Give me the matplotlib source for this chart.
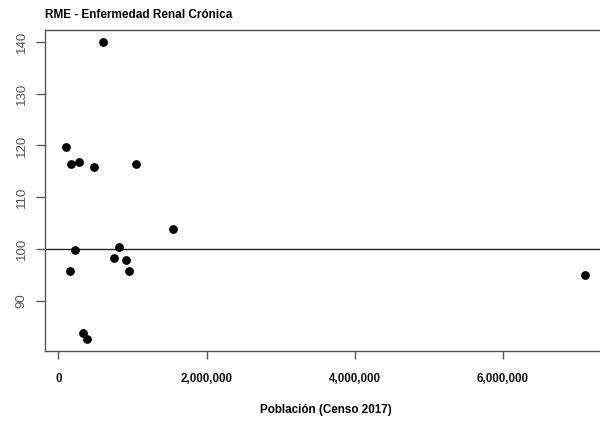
import matplotlib
matplotlib.use("Agg")
import matplotlib.pyplot as plt
import matplotlib.ticker as ticker

plt.rcParams["font.family"] = ["Liberation Sans", "DejaVu Sans"]

# Población (Censo 2017) y RME por región
poblacion = [100000, 175500, 283600, 482000, 1045000, 603600,
             1553000, 225500, 162000, 823700, 756000, 914000,
             954700, 329000, 383500, 7112000]
rme = [119.7, 116.4, 116.9, 115.8, 116.4, 140.0,
       103.9, 99.8, 95.7, 100.3, 98.3, 97.8,
       95.7, 83.7, 82.6, 95.0]

x_ticks = [0, 2000000, 4000000, 6000000]
y_ticks = [90, 100, 110, 120, 130, 140]
referencia = 100

titulo = "RME - Enfermedad Renal Crónica"
etiqueta_x = "Población (Censo 2017)"

gris = "#555555"

fig = plt.figure(figsize=(6, 4.24), dpi=100)
# el área de trazado se sale por la derecha, como en el original recortado
ax = fig.add_axes([45 / 600, 73 / 424, 561 / 600, 321 / 424])

ax.scatter(poblacion, rme, s=40, color="black", zorder=3, linewidths=0)
ax.axhline(referencia, color="#222222", linewidth=1.0)

# extensión del 4% estilo R
def rango(vals):
    lo, hi = min(vals), max(vals)
    d = (hi - lo) * 0.04
    return lo - d, hi + d

ax.set_xlim(*rango(poblacion))
ax.set_ylim(*rango(rme))

ax.set_xticks(x_ticks)
ax.xaxis.set_major_formatter(ticker.FuncFormatter(lambda v, p: f"{int(v):,}"))
ax.set_yticks(y_ticks)

for s in ax.spines.values():
    s.set_color(gris)
    s.set_linewidth(1.0)

ax.tick_params(axis="x", direction="out", length=6, width=1.0, color=gris,
               pad=10, labelsize=8.4, labelcolor="#111111")
ax.tick_params(axis="y", direction="out", length=6.5, width=1.0, color=gris,
               pad=6, labelsize=9.5, labelcolor="#555555")
for lbl in ax.get_xticklabels():
    lbl.set_fontweight("bold")
for lbl in ax.get_yticklabels():
    lbl.set_rotation(90)
    lbl.set_va("center")

fig.text(45 / 600, 1 - 14.5 / 424, titulo, ha="left", va="center",
         fontsize=8.5, fontweight="bold")
fig.text(325.5 / 600, 1 - 410 / 424, etiqueta_x, ha="center", va="center",
         fontsize=8.4, fontweight="bold")

fig.savefig("out.png", dpi=100)
